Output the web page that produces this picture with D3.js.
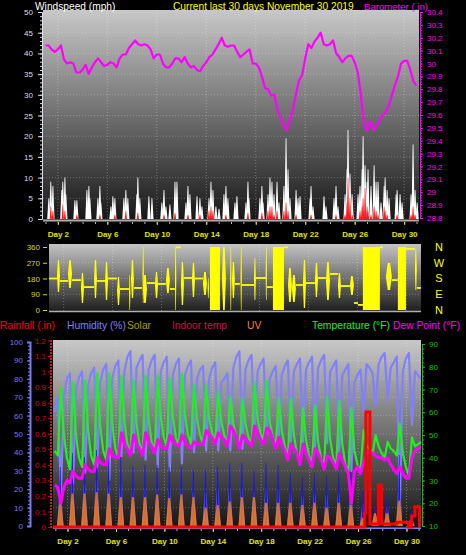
<!DOCTYPE html>
<html>
<head>
<meta charset="utf-8">
<script src="https://cdn.jsdelivr.net/npm/d3@7"></script>
<style>
  body { margin: 0; background: #000; }
  svg { display: block; }
</style>
</head>
<body>
<svg id="chart" width="466" height="555"></svg>
<script>
// ---- data (time is in days, "Day d" label sits at t = d) ----

const dayLabels = [2, 6, 10, 14, 18, 22, 26, 30];

// barometer (inHg), every 6 hours from t = 1.0
const baroStart = 1.0, baroStep = 0.25;
const baroIn = [30.14,30.14,30.11,30.09,30.11,30.14,30.03,30.00,30.01,30.00,29.93,29.93,29.95,29.99,29.92,29.97,
  30.01,30.04,30.01,29.98,29.99,30.01,30.00,29.97,30.04,30.07,30.07,30.12,30.15,30.18,30.15,30.14,30.15,30.14,
  30.11,30.04,30.07,30.07,30.00,29.97,29.97,30.00,30.04,30.04,30.01,30.05,30.00,29.97,29.98,29.95,29.94,29.98,
  30.01,30.05,30.07,30.11,30.15,30.20,30.14,30.13,30.14,30.14,30.09,30.05,30.07,30.09,30.11,30.00,30.00,29.97,
  29.90,29.81,29.80,29.75,29.76,29.64,29.58,29.52,29.48,29.56,29.64,29.76,29.87,29.91,30.04,30.15,30.12,30.17,
  30.20,30.24,30.15,30.14,30.15,30.18,30.08,30.05,30.01,30.04,30.06,30.06,30.01,29.93,29.76,29.52,29.48,29.55,
  29.48,29.52,29.56,29.60,29.62,29.67,29.75,29.83,29.90,30.00,30.02,30.02,29.95,29.86,29.83];

// wind samples: [t, gust mph, average mph]
const windSamples = [
  [1.27,5,0],[1.43,9,3],[1.60,8,2],[2.32,7,0],[2.40,9,3.5],[2.57,10,2],[2.65,6,0],[3.38,4.5,0],[3.54,4.5,1],
  [4.35,7,0],[4.51,8,0],[4.59,5,0],[5.24,5,0],[5.40,8,1],[5.48,4,0],[6.29,3,0],[6.45,5.5,0],[6.61,5,1],
  [7.34,5,0],[7.50,7,2],[7.66,5,0],[8.39,6,0],[8.47,10,1.5],[8.63,5,0],[9.36,5.5,0],[9.61,5,0],[10.41,4,0],
  [10.58,7,1],[10.74,3,0],[11.06,3.5,0],[11.47,9,1.5],[11.63,9,0],[12.36,4,0],[12.52,8,1],[12.68,6,0],
  [13.25,5.5,0],[13.49,5,1],[13.65,3,0],[14.22,5,2],[14.38,9,3],[14.54,7,2],[14.78,3,0],[15.03,2.5,0],
  [15.43,6,0],[15.59,8,1],[15.75,5,0],[16.32,4,0],[16.48,5.5,0],[17.21,4,0],[17.37,9,1.5],[17.45,5,0],
  [18.34,5,0],[18.50,8,1.5],[18.59,4,0],[18.99,6,2],[19.15,10,3],[19.31,9,3],[19.48,6,1],[19.72,9,2],
  [19.88,4,0],[20.28,8,2],[20.45,19.5,4],[20.61,12,2],[20.77,5,0],[21.26,7,1],[21.42,5,0],[21.58,5.5,0],
  [22.39,5,0],[22.47,8,1],[22.63,3,0],[23.52,5.5,0],[23.68,3,0],[24.33,5,0],[24.49,8,1],[24.65,3,0],
  [25.22,6,1],[25.38,12,4],[25.46,21.5,10],[25.62,11,5],[25.79,6,1],[26.27,6,0],[26.43,8,2],[26.60,12,3],
  [26.68,20,5],[26.84,13,7.5],[27.00,9,3],[27.08,12,2],[27.32,8,1],[27.57,13,3],[27.73,9,2],[27.89,9,1],
  [28.13,4,0],[28.38,8,3],[28.46,10,2],[28.62,7,1],[28.78,5,0],[29.35,6,0],[29.43,7,1],[29.67,6,0],
  [29.83,4,0],[30.56,6,1],[30.72,18,3],[30.88,7,1],[31.05,4,0]
];

// wind direction: steady spells [t start, t end, degrees]
const dirSpells = [
  [0.80,1.45,180],[1.70,2.35,166],[2.68,3.41,171],[3.66,4.48,131],[4.72,5.38,166],[5.62,6.36,180],
  [6.60,7.34,120],[7.74,8.40,126],[8.81,9.46,154],[9.71,10.36,149],[10.68,11.09,120],[11.18,11.58,358],
  [11.83,12.48,183],[12.73,13.38,180],[15.99,16.40,149],[16.57,17.55,143],[17.71,18.53,183],[18.61,19.10,131],
  [20.00,20.33,358],[20.98,21.55,143],[21.80,22.53,154],[22.78,23.43,183],[23.76,24.41,206],[24.66,25.39,137],
  [25.72,26.05,40],[26.05,26.45,29],[27.84,28.09,358],[28.82,29.31,171],[29.97,30.70,349],[30.86,31.19,126]
];
// wind direction: gusty swings [t start, t end, min degrees, max degrees]
const dirSwings = [
  [1.45,1.70,103,285],[2.35,2.68,126,285],[3.41,3.66,40,211],[4.48,4.72,69,286],[5.38,5.62,57,274],
  [6.36,6.60,29,189],[7.34,7.40,0,200],[7.50,7.74,69,286],[8.44,8.50,40,360],[8.48,8.81,40,200],
  [9.46,9.71,69,217],[10.36,10.68,97,240],[11.09,11.17,0,360],[11.58,11.83,29,274],[12.48,12.73,74,269],
  [13.38,13.71,86,217],[13.76,13.82,69,180],[13.95,14.77,0,360],[14.93,15.26,0,360],[15.60,15.67,0,360],
  [15.75,15.99,69,274],[16.45,16.52,0,360],[17.55,17.71,57,297],[18.50,18.56,57,360],[19.10,20.00,0,360],
  [20.33,20.65,46,240],[20.65,20.98,46,200],[21.55,21.80,11,286],[22.53,22.78,74,269],[23.43,23.76,57,274],
  [24.41,24.66,69,211],[25.39,25.72,86,194],[26.45,27.84,0,360],[28.33,28.82,114,269],[29.31,29.97,0,360],
  [30.70,30.86,114,349]
];

// outdoor samples every 6 hours from t = 0.95
const sampleStart = 0.95, sampleStep = 0.25;
const tempF = [43,
  41,71,50,40, 35,73,50,40, 36,74,52,41, 37,77,54,43, 39,77,55,44, 40,76,56,46, 42,74,55,46, 42,76,57,47,
  43,76,58,49, 45,75,58,49, 45,77,59,50, 46,72,57,50, 46,72,57,51, 47,69,56,50, 46,67,55,49, 45,66,55,49,
  46,73,57,51, 47,74,56,49, 45,66,52,45, 40,66,50,42, 38,62,48,41, 37,63,47,40, 36,67,48,40, 36,65,46,37,
  34,62,43,37, 34,52,45,44, 42,50,45,42, 40,47,44,43, 41,55,42,36, 32,49,45,46, 47];
const humidity = [62,
  70,18,70,80, 83,23,74,81, 84,29,76,83, 86,32,78,85, 88,25,80,87, 90,38,84,92, 95,40,86,90, 93,36,85,90,
  93,32,84,89, 92,30,82,88, 91,34,82,87, 90,40,80,85, 87,41,80,86, 89,41,78,80, 83,41,86,92, 95,42,85,90,
  93,52,84,88, 91,50,80,84, 87,48,82,87, 90,46,84,88, 91,45,85,89, 92,43,86,90, 93,45,84,87, 90,40,82,85,
  88,30,78,82, 85,62,88,86, 83,65,88,92, 94,68,86,89, 92,12,84,91, 94,55,84,82, 80];
const dewF = [28,
  27,20,27,30, 29,34,32,31, 31,37,35,34, 34,40,38,37, 37,44,41,40, 40,51,46,44, 41,50,46,44, 41,51,47,45,
  42,48,45,44, 44,50,47,46, 45,50,47,45, 44,47,46,46, 46,52,50,49, 46,51,49,48, 45,54,52,49, 44,50,48,47,
  45,54,51,48, 46,53,52,48, 44,49,46,43, 39,46,44,42, 37,46,42,39, 36,44,42,39, 35,41,40,38, 35,42,39,36,
  33,20,34,36, 33,38,42,43, 42,41,40,40, 39,40,37,35, 33,36,33,31, 31,40,43,44, 45];

// daily midday peaks, days 1..30
const days = d3.range(1, 31);
const solarPeak = [571,707,668,736,687,668,571,590,590,571,571,542,542,571,610,610,542,610,590,513,
  474,513,494,513,523,348,200,300,687,150];
const uvPeak = [2.0,2.8,2.8,2.9,2.8,2.5,2.5,2.5,2.7,2.4,2.7,2.5,1.6,1.8,2.1,2.5,2.5,2.0,2.0,2.0,
  1.8,2.0,1.6,2.0,1.8,0.7,1.1,1.1,2.2,0.5];

// rainfall (in), step values starting at each time
const rainT  = [0.8, 26.55, 26.65, 26.98, 27.68, 27.95, 29.19, 30.16, 30.43, 30.70, 31.07];
const rainIn = [0,   0.09,  0.74,  0.02,  0.27,  0.02,  0.03,  0,     0.07,  0.13,  0];

// ---- layout ----
const FONT = '"Liberation Sans", Arial, sans-serif';
const tDomain = [0.8, 31.2];
const topBox = { x0: 43, x1: 419, y0: 10, y1: 222 };
const dirBox = { x0: 49, x1: 421, y0: 244, y1: 312 };
const botBox = { x0: 53, x1: 421, y0: 340, y1: 529 };

const xTop = d3.scaleLinear().domain(tDomain).range([topBox.x0, topBox.x1]);
const xDir = d3.scaleLinear().domain(tDomain).range([dirBox.x0, dirBox.x1]);
const xBot = d3.scaleLinear().domain(tDomain).range([botBox.x0, botBox.x1]);

const ySpeed = d3.scaleLinear().domain([0, 50]).range([219, 12]);
const yBaro = d3.scaleLinear().domain([28.8, 30.4]).range([218, 12]);
const yDir = d3.scaleLinear().domain([0, 360]).range([310, 247]);
const yHum = d3.scaleLinear().domain([0, 100]).range([526, 342]);
const yRain = d3.scaleLinear().domain([0, 1.1]).range([527, 356]);
const yTemp = d3.scaleLinear().domain([10, 90]).range([526, 344]);
const ySolar = d3.scaleLinear().domain([0, 1800]).range([526, 340]);
const yUV = d3.scaleLinear().domain([0, 16]).range([526, 340]);

const svg = d3.select('#chart');
svg.append('rect').attr('width', 466).attr('height', 555).attr('fill', '#000');
const defs = svg.append('defs');

function addGradient(id, box, c0, c1) {
  const g = defs.append('linearGradient').attr('id', id)
    .attr('gradientUnits', 'userSpaceOnUse')
    .attr('x1', 0).attr('x2', 0).attr('y1', box.y0).attr('y2', box.y1);
  g.append('stop').attr('offset', 0).attr('stop-color', c0);
  g.append('stop').attr('offset', 1).attr('stop-color', c1);
}

function addClip(id, box) {
  defs.append('clipPath').attr('id', id).append('rect')
    .attr('x', box.x0).attr('y', box.y0)
    .attr('width', box.x1 - box.x0).attr('height', box.y1 - box.y0);
}

function panel(id, box, c0, c1) {
  addGradient(id + '-bg', box, c0, c1);
  addClip(id + '-clip', box);
  svg.append('rect')
    .attr('x', box.x0).attr('y', box.y0)
    .attr('width', box.x1 - box.x0).attr('height', box.y1 - box.y0)
    .attr('fill', `url(#${id}-bg)`);
  return svg.append('g').attr('clip-path', `url(#${id}-clip)`);
}

function grid(g, box, x, ys) {
  g.selectAll(null).data(dayLabels).join('line')
    .attr('x1', d => x(d)).attr('x2', d => x(d))
    .attr('y1', box.y0).attr('y2', box.y1)
    .attr('stroke', '#fff').attr('stroke-opacity', 0.3).attr('stroke-dasharray', '1,2');
  g.selectAll(null).data(ys).join('line')
    .attr('x1', box.x0).attr('x2', box.x1)
    .attr('y1', d => d).attr('y2', d => d)
    .attr('stroke', '#fff').attr('stroke-opacity', 0.25).attr('stroke-dasharray', '1,2');
}

function styleAxis(g, color, size) {
  g.attr('font-family', FONT).attr('font-size', size);
  g.select('.domain').attr('stroke', color);
  g.selectAll('.tick line').attr('stroke', color);
  g.selectAll('.tick text').attr('fill', color);
}

function minorAxis(axis, transform, color) {
  const g = svg.append('g').attr('transform', transform).call(axis.tickFormat(''));
  g.select('.domain').remove();
  g.selectAll('.tick line').attr('stroke', color);
  return g;
}

// narrow spike glyph standing on a baseline
function spike(x, yBase, yTop, hw) {
  return `M${x - hw},${yBase}L${x - hw * 0.25},${yTop}L${x + hw * 0.25},${yTop}L${x + hw},${yBase}Z`;
}

// spindle glyph for a burst of direction swings; wide spells stay rectangular
function swing(x0, x1, yHi, yLo) {
  const w = Math.max(1.4, x1 - x0);
  if (w > 6) return `M${x0},${yHi}H${x0 + w}V${yLo}H${x0}Z`;
  const ym = (yHi + yLo) / 2, k = w * 0.3;
  return `M${x0},${ym}L${x0 + k},${yHi}L${x0 + w - k},${yHi}L${x0 + w},${ym}L${x0 + w - k},${yLo}L${x0 + k},${yLo}Z`;
}

function dayAxis(x, y) {
  minorAxis(d3.axisBottom(x).tickValues(d3.range(1, 32)).tickSize(2), `translate(0,${y})`, '#bbb');
  const g = svg.append('g').attr('transform', `translate(0,${y})`)
    .call(d3.axisBottom(x).tickValues(dayLabels).tickSize(3).tickPadding(6).tickFormat(d => 'Day ' + d));
  g.select('.domain').remove();
  styleAxis(g, '#e4e400', 8);
  g.selectAll('.tick text').attr('font-weight', 'bold');
}

// ---- top panel: wind speed and barometer ----
const gTop = panel('top', topBox, '#c8c8c8', '#151515');
grid(gTop, topBox, xTop, d3.range(5, 50, 5).map(ySpeed));

gTop.selectAll(null).data(windSamples).join('path')
  .attr('d', d => spike(xTop(d[0]), ySpeed(0), ySpeed(d[1]), 1.6))
  .attr('fill', '#fff');
gTop.selectAll(null).data(windSamples.filter(d => d[2] > 0)).join('path')
  .attr('d', d => spike(xTop(d[0]), ySpeed(0), ySpeed(d[2]), 1.1))
  .attr('fill', '#ff1a1a');

gTop.append('path')
  .datum(baroIn)
  .attr('d', d3.line().x((d, i) => xTop(baroStart + i * baroStep)).y(d => yBaro(d)))
  .attr('fill', 'none').attr('stroke', '#ff00ff').attr('stroke-width', 2.2).attr('stroke-linejoin', 'round');

svg.append('line').attr('x1', topBox.x0).attr('x2', topBox.x1).attr('y1', 220.5).attr('y2', 220.5)
  .attr('stroke', '#a8a8a8').attr('stroke-width', 2);

minorAxis(d3.axisLeft(ySpeed).tickValues(d3.range(0, 51, 1)).tickSize(2), 'translate(42,0)', '#ddd');
const axSpeed = svg.append('g').attr('transform', 'translate(42,0)')
  .call(d3.axisLeft(ySpeed).tickValues(d3.range(0, 51, 5)).tickSize(4).tickPadding(5));
styleAxis(axSpeed, '#dde', 8);

minorAxis(d3.axisRight(yBaro).tickValues(d3.range(28.8, 30.41, 0.02)).tickSize(2), 'translate(420,0)', '#ff00ff');
const axBaro = svg.append('g').attr('transform', 'translate(420,0)')
  .call(d3.axisRight(yBaro).tickValues(d3.range(28.8, 30.41, 0.1)).tickSize(3).tickPadding(4)
    .tickFormat(d => String(+d.toFixed(1))));
styleAxis(axBaro, '#ff00ff', 8);

dayAxis(xTop, 222);

// ---- wind direction panel ----
const gDir = panel('dir', dirBox, '#c4c4c4', '#1c1c1c');
grid(gDir, dirBox, xDir, [90, 180, 270].map(yDir));

gDir.selectAll(null).data(dirSpells).join('line')
  .attr('x1', d => xDir(d[0])).attr('x2', d => xDir(d[1]))
  .attr('y1', d => yDir(d[2])).attr('y2', d => yDir(d[2]))
  .attr('stroke', '#ffff00').attr('stroke-width', 1.8);
gDir.selectAll(null).data(dirSwings).join('path')
  .attr('d', d => swing(xDir(d[0]), xDir(d[1]), yDir(d[3]), yDir(d[2])))
  .attr('fill', '#ffff00');

svg.append('line').attr('x1', dirBox.x0).attr('x2', dirBox.x1).attr('y1', 311.5).attr('y2', 311.5)
  .attr('stroke', '#b0b0b0').attr('stroke-width', 1.5);

const axDir = svg.append('g').attr('transform', 'translate(47,0)')
  .call(d3.axisLeft(yDir).tickValues([0, 90, 180, 270, 360]).tickSize(4).tickPadding(3));
axDir.select('.domain').remove();
styleAxis(axDir, '#d8d800', 8);

svg.append('g').selectAll('text').data(['N', 'W', 'S', 'E', 'N']).join('text')
  .attr('x', 439).attr('y', (d, i) => yDir(360 - i * 90))
  .attr('dy', '0.36em').attr('text-anchor', 'middle')
  .attr('font-family', FONT).attr('font-size', 11).attr('fill', '#ffff00')
  .text(d => d);

// ---- bottom panel: humidity, solar, UV, temperature, dew point, rain ----
const gBot = panel('bot', botBox, '#c8c8c8', '#141414');
grid(gBot, botBox, xBot, d3.range(10, 100, 10).map(yHum));

const sampleX = i => xBot(sampleStart + i * sampleStep);

gBot.append('path').datum(humidity)
  .attr('d', d3.line().x((d, i) => sampleX(i)).y(d => yHum(d)))
  .attr('fill', 'none').attr('stroke', '#8080ff').attr('stroke-width', 2.2).attr('stroke-linejoin', 'round');

const noon = d => d + 0.4;
gBot.selectAll(null).data(days).join('path')
  .attr('d', (d, i) => spike(xBot(noon(d)), yHum(0), ySolar(solarPeak[i] * 0.6), 3.2))
  .attr('fill', '#7070ff').attr('fill-opacity', 0.85);
gBot.selectAll(null).data(days).join('path')
  .attr('d', (d, i) => spike(xBot(noon(d)), yHum(0), ySolar(solarPeak[i]), 1.4))
  .attr('fill', '#1414ff');
gBot.selectAll(null).data(days).join('path')
  .attr('d', (d, i) => spike(xBot(noon(d)), yHum(0), yUV(uvPeak[i]), 3.4))
  .attr('fill', '#f07a1c').attr('fill-opacity', 0.88);

gBot.append('path').datum(tempF)
  .attr('d', d3.line().x((d, i) => sampleX(i)).y(d => yTemp(d)))
  .attr('fill', 'none').attr('stroke', '#22ee22').attr('stroke-width', 2.2).attr('stroke-linejoin', 'round');

gBot.append('path').datum(dewF)
  .attr('d', d3.line().x((d, i) => sampleX(i)).y(d => yTemp(d)))
  .attr('fill', 'none').attr('stroke', '#ff00ff').attr('stroke-width', 3).attr('stroke-linejoin', 'round');

gBot.append('line').attr('x1', botBox.x0).attr('x2', botBox.x1).attr('y1', 528.3).attr('y2', 528.3)
  .attr('stroke', '#8080ff').attr('stroke-width', 1.6);

gBot.append('path').datum(rainT.map((t, i) => [t, rainIn[i]]))
  .attr('d', d3.line().curve(d3.curveStepAfter).x(d => xBot(d[0])).y(d => yRain(d[1])))
  .attr('fill', 'none').attr('stroke', '#ff0000').attr('stroke-width', 3);

// humidity axis
minorAxis(d3.axisLeft(yHum).tickValues(d3.range(0, 101, 2)).tickSize(2), 'translate(30,0)', '#8080ff');
const axHum = svg.append('g').attr('transform', 'translate(30,0)')
  .call(d3.axisLeft(yHum).tickValues(d3.range(0, 101, 10)).tickSize(3).tickPadding(4));
styleAxis(axHum, '#7878ff', 8);
axHum.select('.domain').attr('stroke-width', 2);

// rainfall axis (top label is cut off by the panel edge)
addClip('rain-clip', { x0: 30, x1: 53, y0: 339, y1: 540 });
const axRain = svg.append('g').attr('clip-path', 'url(#rain-clip)').append('g')
  .attr('transform', 'translate(51,0)')
  .call(d3.axisLeft(yRain).tickValues(d3.range(0, 1.21, 0.1)).tickSize(3).tickPadding(2)
    .tickFormat(d => String(+d.toFixed(1))));
styleAxis(axRain, '#dd0000', 8);
axRain.select('.domain').attr('stroke', '#ff3030').attr('stroke-width', 1.5).attr('stroke-dasharray', '2,1')
  .attr('d', `M0,${botBox.y0}V${botBox.y1}`);

// temperature axis
minorAxis(d3.axisRight(yTemp).tickValues(d3.range(10, 91, 2)).tickSize(2), 'translate(422,0)', '#00c000');
const axTemp = svg.append('g').attr('transform', 'translate(422,0)')
  .call(d3.axisRight(yTemp).tickValues(d3.range(10, 91, 10)).tickSize(3).tickPadding(4));
styleAxis(axTemp, '#00c800', 8);

dayAxis(xBot, 529);

// ---- titles and legend ----
const titles = [
  { text: 'Windspeed (mph)', x: 35, y: 9.5, size: 10.2, color: '#ffffff' },
  { text: 'Current last 30 days November 30 2019', x: 173, y: 9.5, size: 10.2, color: '#ffff00' },
  { text: 'Barometer (.in)', x: 364, y: 9.5, size: 9.6, color: '#ff00ff' },
  { text: 'Rainfall (.in)', x: 0, y: 329, size: 10.3, color: '#ff0000' },
  { text: 'Humidity (%)', x: 67, y: 329, size: 10.3, color: '#8080ff' },
  { text: 'Solar', x: 127, y: 329, size: 10.3, color: '#a8a000' },
  { text: 'Indoor temp', x: 172, y: 329, size: 10.3, color: '#d0104a' },
  { text: 'UV', x: 247, y: 329, size: 10.3, color: '#ff8020' },
  { text: 'Temperature (°F)', x: 312, y: 329, size: 10.3, color: '#22ee22' },
  { text: 'Dew Point (°F)', x: 393, y: 329, size: 10.3, color: '#ff00ff' }
];
svg.append('g').selectAll('text').data(titles).join('text')
  .attr('x', d => d.x).attr('y', d => d.y)
  .attr('font-family', FONT).attr('font-size', d => d.size)
  .attr('fill', d => d.color)
  .text(d => d.text);
</script>
</body>
</html>
